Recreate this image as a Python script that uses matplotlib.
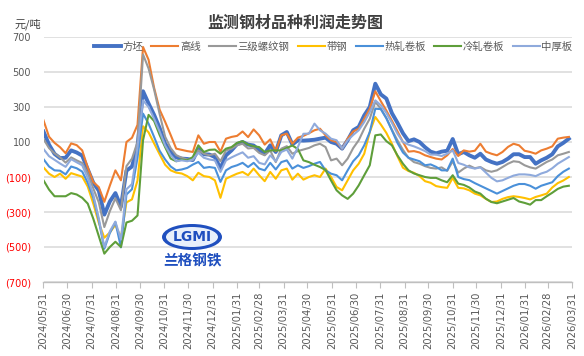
import matplotlib
matplotlib.use('Agg')
import matplotlib.pyplot as plt
import pandas as pd
from matplotlib.patches import Ellipse

plt.rcParams['font.family'] = ['Noto Sans CJK SC', 'DejaVu Sans']

# ---------------- data ----------------
dates = pd.date_range('2024-05-31', periods=96, freq='7D')

fangpi = [160, 85, 32, 8, 10, 52, 40, 22, -56, -133, -178, -315, -240, -192, -270, -64, -40, 75, 390,
          320, 255, 180, 90, 45, 12, 5, 3, -3, 60, 30, 28, 14, -52, 24, 52, 88, 100,
          85, 80, 52, 33, 81, 43, 138, 157, 86, 110, 108, 110, 113, 119, 125, 100, 90, 62, 110, 167,
          186, 252, 300, 433, 372, 348, 265, 210, 150, 105, 115, 100, 70, 45, 35, 45, 50, 117,
          30, 43, 24, 10, 33, 0, -14, -24, -14, 5, 30, 30, 14, 14, -24, -5, 10, 30, 75, 95, 119]

gaoxian = [224, 130, 95, 70, 36, 92, 82, 52, -46, -129, -158, -242, -149, -62, -119, 100, 124, 198, 643,
           570, 410, 285, 215, 140, 62, 55, 48, 43, 138, 90, 100, 100, 45, 119, 129, 135, 160,
           128, 172, 138, 85, 115, 48, 138, 148, 90, 125, 135, 150, 167, 176, 138, 110, 100, 62, 119, 160,
           176, 233, 290, 390, 333, 280, 222, 162, 100, 45, 48, 40, 24, 14, 5, 0, 24, 60,
           20, 52, 45, 50, 90, 45, 33, 24, 43, 72, 90, 81, 50, 43, 33, 52, 62, 75, 119, 125, 129]

luowen = [117, 65, 35, 12, -18, 12, -5, -20, -80, -165, -245, -386, -295, -222, -290, -38, 5, 100, 600,
          520, 400, 260, 130, 65, 25, 10, 0, -3, 52, 33, 24, 33, -10, 52, 62, 81, 90,
          63, 66, 38, 24, 52, -15, 62, 76, 33, 48, 57, 66, 81, 90, 71, -5, 5, -33, 5, 65,
          110, 176, 233, 329, 290, 238, 170, 110, 55, 10, -15, -24, -38, -48, -52, -45, -65, -10,
          -75, -52, -35, -50, -43, -62, -70, -62, -43, -24, -10, -14, -33, -45, -52, -33, -14, 0, 24, 33, 43]

daigang = [-45, -81, -100, -81, -110, -78, -88, -98, -155, -252, -362, -447, -417, -374, -447, -245, -228, -120, 190,
           155, 92, 30, -30, -62, -75, -80, -95, -119, -76, -95, -100, -119, -219, -110, -95, -81, -71,
           -90, -52, -90, -124, -71, -110, -62, -52, -115, -81, -115, -100, -90, -100, -52, -100, -157, -176, -119, -62,
           -24, 33, 157, 243, 200, 152, 90, 19, -47, -66, -76, -95, -124, -133, -152, -158, -162, -105,
           -162, -165, -176, -195, -205, -225, -243, -240, -225, -215, -210, -214, -220, -228, -214, -205, -195, -160, -135, -120, -100]

rezha = [2, -40, -62, -64, -85, -40, -50, -69, -133, -219, -348, -510, -420, -358, -502, -200, -170, 10, 262,
         205, 129, 50, 0, -40, -62, -57, -48, -29, -14, -48, -43, -48, -128, -62, -43, -33, -19,
         -43, -19, -52, -62, -19, -57, -15, -5, -52, -33, -48, -38, -24, -14, -62, -81, -90, -119, -62, -10,
         24, 81, 157, 290, 288, 235, 167, 95, 40, 10, 0, -10, -33, -28, -42, -62, -62, 5,
         -100, -112, -118, -135, -150, -165, -180, -195, -180, -165, -150, -140, -140, -150, -167, -150, -140, -130, -95, -70, -52]

lengzha = [-119, -172, -210, -210, -210, -192, -200, -219, -252, -338, -438, -538, -500, -470, -500, -360, -350, -320, 110,
           255, 220, 140, 70, 5, -10, 0, -5, 14, 81, 43, 55, 57, 33, 62, 71, 95, 105,
           85, 76, 71, 43, 52, 52, 52, 66, 80, 60, -5, -15, -30, -43, -60, -120, -176, -205, -225, -195,
           -148, -90, -33, 138, 143, 105, 81, 24, -24, -62, -80, -90, -100, -105, -105, -119, -130, -90,
           -138, -145, -160, -183, -195, -224, -243, -250, -240, -230, -220, -240, -248, -258, -232, -232, -210, -190, -168, -155, -150]

zhonghou = [60, 19, -2, -23, -42, 2, -16, -33, -105, -200, -336, -500, -410, -355, -457, -170, -140, 71, 338,
            300, 233, 160, 80, 25, -10, -5, -10, 0, 38, 10, 0, -5, -71, -5, 12, 27, 41,
            10, 19, -19, -28, 24, -10, 43, 57, 5, 71, 147, 148, 205, 167, 148, 119, 110, 62, 110, 140,
            167, 214, 271, 338, 310, 266, 210, 148, 100, 85, 75, 62, 48, 28, 28, 20, 33, 52,
            -20, -30, -45, -52, -45, -75, -105, -125, -119, -105, -92, -85, -85, -88, -95, -80, -70, -50, -24, -5, 14]

series_names = ['方坯', '高线', '三级螺纹钢', '带钢', '热轧卷板', '冷轧卷板', '中厚板']
series_values = [fangpi, gaoxian, luowen, daigang, rezha, lengzha, zhonghou]
series_colors = ['#4472C4', '#ED7D31', '#999999', '#FFC000', '#4A90D9', '#5E9E3A', '#8FAADC']
series_widths = [2.8, 1.5, 1.5, 1.5, 1.5, 1.5, 1.5]

ytick_vals = [-700, -500, -300, -100, 100, 300, 500, 700]
ytick_labels = ['(700)', '(500)', '(300)', '(100)', '100', '300', '500', '700']
xtick_dates = pd.date_range('2024-05-31', '2026-03-31', freq='ME')

# ---------------- figure ----------------
fig = plt.figure(figsize=(5.84, 3.56), dpi=100)
ax = fig.add_axes([43.5 / 584, 74 / 356, (572 - 43.5) / 584, 245 / 356])

for name, vals, col, lw in zip(series_names, series_values, series_colors, series_widths):
    ax.plot(dates, vals, color=col, lw=lw, label=name, solid_joinstyle='round')

ax.set_ylim(-700, 700)
ax.set_xlim(pd.Timestamp('2024-05-31'), pd.Timestamp('2026-03-31'))
ax.set_yticks(ytick_vals)
ax.set_yticklabels(ytick_labels, family='DejaVu Sans', fontsize=7)
for lab, v in zip(ax.get_yticklabels(), ytick_vals):
    lab.set_color('#FF0000' if v < 0 else '#595959')
ax.tick_params(axis='y', length=0, pad=9)

ax.set_xticks(xtick_dates)
ax.set_xticklabels([d.strftime('%Y/%m/%d') for d in xtick_dates], rotation=90,
                   family='DejaVu Sans', fontsize=7.2, color='#595959')
ax.tick_params(axis='x', length=4, color='#BFBFBF', width=0.8, pad=3)

ax.grid(axis='y', color='#D9D9D9', lw=1.1)
ax.set_axisbelow(True)
for s in ['left', 'right', 'top']:
    ax.spines[s].set_visible(False)
ax.spines['bottom'].set_color('#BFBFBF')
ax.spines['bottom'].set_linewidth(1.0)

# title and unit
fig.text(295 / 584, 1 - 23 / 356, '监测钢材品种利润走势图', ha='center', va='center',
         fontsize=11.5, fontweight='bold', color='#404040')
fig.text(28 / 584, 1 - 24 / 356, '元/吨', ha='center', va='center', fontsize=8, color='#404040')

# legend
leg = fig.legend(loc='center', bbox_to_anchor=(333 / 584, 1 - 47 / 356), ncol=7, frameon=False,
                 fontsize=7.5, handlelength=2.6, handletextpad=0.15, columnspacing=0.8,
                 borderaxespad=0, borderpad=0)
for t in leg.get_texts():
    t.set_color('#595959')

# logo watermark
ax_logo = fig.add_axes([160 / 584, 1 - 268 / 356, 64 / 584, 46 / 356])
ax_logo.set_xlim(0, 64)
ax_logo.set_ylim(0, 46)
ax_logo.axis('off')
ax_logo.add_patch(Ellipse((32, 31), 60, 26, facecolor='#1F4FBF', edgecolor='none'))
ax_logo.add_patch(Ellipse((32, 31), 52, 20, facecolor='#E8F0FB', edgecolor='none'))
ax_logo.text(32, 31, 'LGMI', ha='center', va='center', fontsize=10, fontweight='bold',
             color='#1F4FBF', family='DejaVu Sans')
ax_logo.text(32, 8, '兰格钢铁', ha='center', va='center', fontsize=10.5, fontweight='bold',
             color='#1F4FBF', style='italic')

fig.savefig('out.png', dpi=100)
